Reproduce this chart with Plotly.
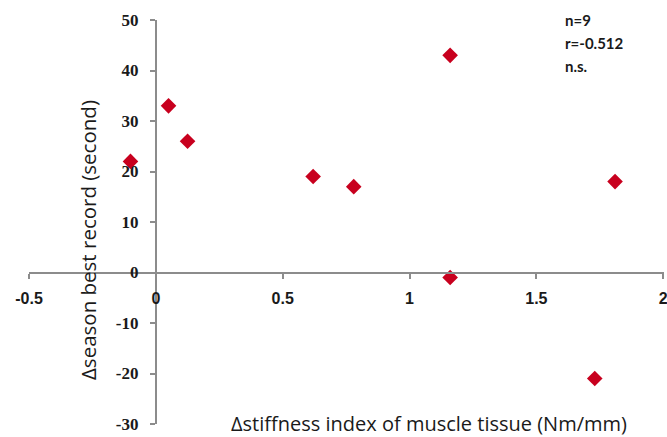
import plotly.graph_objects as go

# Data
stiffness_change = [-0.10, 0.05, 0.125, 0.62, 0.78, 1.16, 1.16, 1.73, 1.81]
record_change = [22, 33, 26, 19, 17, 43, -1, -21, 18]

x_ticks = [-0.5, 0, 0.5, 1, 1.5, 2]
x_tick_labels = ["-0.5", "0", "0.5", "1", "1.5", "2"]
y_ticks = [-30, -20, -10, 0, 10, 20, 30, 40, 50]
y_tick_labels = ["-30", "-20", "-10", "0", "10", "20", "30", "40", "50"]
stats_lines = ["n=9", "r=-0.512", "n.s."]

x_title = "Δstiffness index of muscle tissue (Nm/mm)"
y_title = "Δseason best record (second)"

X_RANGE = [-0.5, 2.003]
Y_RANGE = [-30, 50]

fig = go.Figure()
fig.add_trace(go.Scatter(
    x=stiffness_change, y=record_change, mode="markers",
    marker=dict(symbol="diamond", size=12, color="#C8001E",
                line=dict(width=0)),
    showlegend=False, hoverinfo="x+y",
))

axis_color = "#8c8c8c"
fig.update_layout(
    width=667, height=437,
    margin=dict(l=29, r=3, t=20, b=13),
    paper_bgcolor="white", plot_bgcolor="white",
    xaxis=dict(
        range=X_RANGE, tickvals=x_ticks, ticktext=x_tick_labels,
        showgrid=False, zeroline=False, showline=True,
        linecolor=axis_color, linewidth=2,
        ticks="outside", ticklen=5, tickwidth=2, tickcolor=axis_color,
        anchor="free",
        position=(0 - Y_RANGE[0]) / (Y_RANGE[1] - Y_RANGE[0]),
        tickfont=dict(family="Liberation Sans Narrow, Liberation Sans, Arial",
                      size=16, color="#1a1a1a", weight="bold"),
        ticklabelstandoff=6,
        ticklabeloverflow="allow",
        automargin=False,
    ),
    yaxis=dict(
        range=Y_RANGE, tickvals=y_ticks, ticktext=y_tick_labels,
        showgrid=False, zeroline=False, showline=True,
        linecolor=axis_color, linewidth=2,
        ticks="outside", ticklen=5, tickwidth=2, tickcolor=axis_color,
        anchor="free",
        position=(0 - X_RANGE[0]) / (X_RANGE[1] - X_RANGE[0]),
        tickfont=dict(family="Liberation Serif, DejaVu Serif, serif",
                      size=17, color="#1a1a1a", weight="bold"),
        ticklabelstandoff=8,
        automargin=False,
    ),
)

plot_h = 437 - 20 - 13
stat_y_px = [20, 43, 66]
for line, py in zip(stats_lines, stat_y_px):
    fig.add_annotation(
        text=line, xref="paper", yref="paper",
        x=(563 - 29) / 635, y=1 - (py - 20) / plot_h,
        xanchor="left", yanchor="middle", showarrow=False,
        font=dict(family="Lato, Open Sans, sans-serif", size=15,
                  color="#1a1a1a", weight="bold"),
    )

fig.add_annotation(
    text=x_title, xref="paper", yref="paper",
    x=(429 - 29) / 635, y=1 - (423 - 20) / plot_h,
    xanchor="center", yanchor="middle", showarrow=False,
    font=dict(family="Open Sans, Noto Sans, sans-serif", size=20, color="#1a1a1a"),
)
fig.add_annotation(
    text=y_title, xref="paper", yref="paper",
    x=(88 - 29) / 635, y=1 - (240 - 20) / plot_h,
    xanchor="center", yanchor="middle", showarrow=False, textangle=-90,
    font=dict(family="Open Sans, Noto Sans, sans-serif", size=20.5, color="#1a1a1a"),
)

fig.write_html("out.html", config={"displayModeBar": False},
               post_script="document.body.style.margin='0';document.body.style.overflow='hidden';")
